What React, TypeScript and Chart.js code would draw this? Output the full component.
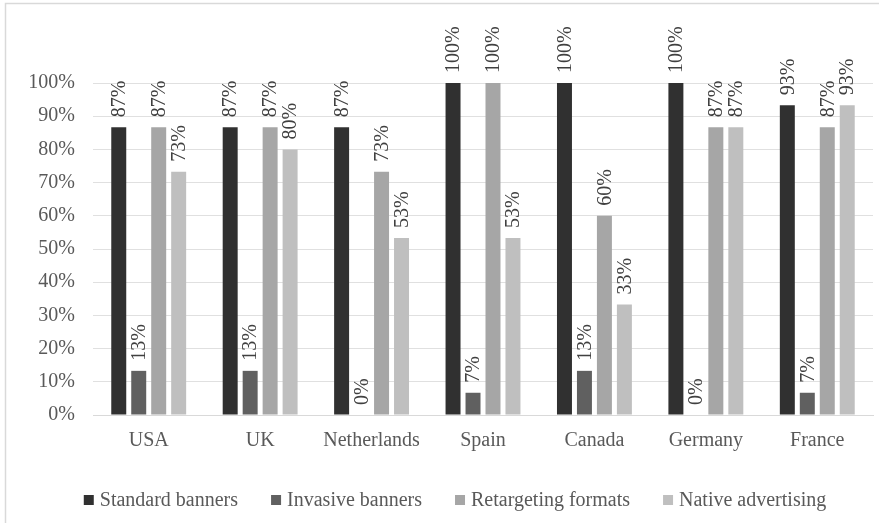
import React, { useEffect, useRef } from "react";
import { Chart, registerables } from "chart.js";

Chart.register(...registerables);

const categories = ["USA", "UK", "Netherlands", "Spain", "Canada", "Germany", "France"];
const standardBanners = [86.7, 86.7, 86.7, 100, 100, 100, 93.3];
const invasiveBanners = [13.3, 13.3, 0, 6.7, 13.3, 0, 6.7];
const retargetingFormats = [86.7, 86.7, 73.3, 100, 60, 86.7, 86.7];
const nativeAdvertising = [73.3, 80, 53.3, 53.3, 33.3, 86.7, 93.3];
const seriesNames = ["Standard banners", "Invasive banners", "Retargeting formats", "Native advertising"];
const seriesColors = ["#303030", "#606060", "#a6a6a6", "#bfbfbf"];
const yTicks = [0, 10, 20, 30, 40, 50, 60, 70, 80, 90, 100];

const FONT = "'Liberation Serif', 'Times New Roman', serif";

const framePlugin = {
  id: "frame",
  beforeDraw(chart: any) {
    const ctx = chart.ctx;
    ctx.save();
    ctx.strokeStyle = "#d9d9d9";
    ctx.lineWidth = 1.5;
    ctx.beginPath();
    ctx.moveTo(5.5, chart.height);
    ctx.lineTo(5.5, 3.5);
    ctx.lineTo(879, 3.5);
    ctx.stroke();
    ctx.restore();
  },
};

const valueLabelPlugin = {
  id: "valueLabels",
  afterDatasetsDraw(chart: any) {
    const ctx = chart.ctx;
    ctx.save();
    ctx.font = `20px ${FONT}`;
    ctx.fillStyle = "#404040";
    ctx.textAlign = "left";
    ctx.textBaseline = "middle";
    chart.data.datasets.forEach((ds: any, di: number) => {
      const meta = chart.getDatasetMeta(di);
      meta.data.forEach((bar: any, i: number) => {
        const v = ds.data[i];
        const text = Math.round(v) + "%";
        ctx.save();
        ctx.translate(bar.x, bar.y - 10);
        ctx.rotate(-Math.PI / 2);
        ctx.fillText(text, 0, 1);
        ctx.restore();
      });
    });
    ctx.restore();
  },
};

const legendPlugin = {
  id: "customLegend",
  afterDraw(chart: any) {
    const ctx = chart.ctx;
    ctx.save();
    ctx.font = `20px ${FONT}`;
    ctx.textBaseline = "middle";
    ctx.textAlign = "left";
    const box = 10;
    const gapBoxText = 6;
    const gapItems = 33;
    const items = chart.data.datasets.map((ds: any) => ({
      label: ds.label,
      color: ds.backgroundColor,
      w: box + gapBoxText + ctx.measureText(ds.label).width,
    }));
    const total = items.reduce((s: number, it: any) => s + it.w, 0) + gapItems * (items.length - 1);
    let x = 455 - total / 2;
    const y = 500;
    items.forEach((it: any) => {
      ctx.fillStyle = it.color;
      ctx.fillRect(x, y - box / 2, box, box);
      ctx.fillStyle = "#595959";
      ctx.fillText(it.label, x + box + gapBoxText, y + 1);
      x += it.w + gapItems;
    });
    ctx.restore();
  },
};

export default function App() {
  const ref = useRef<HTMLCanvasElement | null>(null);
  useEffect(() => {
    if (!ref.current) return;
    const seriesData = [standardBanners, invasiveBanners, retargetingFormats, nativeAdvertising];
    const chart = new Chart(ref.current, {
      type: "bar",
      data: {
        labels: categories,
        datasets: seriesData.map((d, i) => ({
          label: seriesNames[i],
          data: d,
          backgroundColor: seriesColors[i],
          borderWidth: 0,
          categoryPercentage: 0.717,
          barPercentage: 0.75,
        })),
      },
      options: {
        animation: false,
        responsive: false,
        maintainAspectRatio: false,
        layout: { padding: { top: 83, right: 14, left: 0, bottom: 0 } },
        plugins: {
          legend: { display: false },
          tooltip: { enabled: false },
          title: { display: false },
        },
        scales: {
          x: {
            grid: { display: false, drawTicks: false },
            border: { display: true, color: "#d9d9d9", width: 1 },
            ticks: {
              color: "#595959",
              font: { family: FONT, size: 20 },
              padding: 14,
              maxRotation: 0,
              autoSkip: false,
            },
            afterFit(scale: any) {
              scale.height = 108;
            },
          },
          y: {
            min: 0,
            max: 100,
            afterBuildTicks(scale: any) {
              scale.ticks = yTicks.map((v) => ({ value: v }));
            },
            grid: { color: "#e0e0e0", lineWidth: 1, drawTicks: false },
            border: { display: false },
            ticks: {
              color: "#595959",
              font: { family: FONT, size: 20 },
              padding: 18,
              callback: (v: any) => v + "%",
            },
            afterFit(scale: any) {
              scale.width = 93;
            },
          },
        },
      },
      plugins: [framePlugin, valueLabelPlugin, legendPlugin],
    });
    return () => chart.destroy();
  }, []);
  return (
    <div style={{ position: "fixed", left: 0, top: 0, width: 887, height: 523, background: "#fff" }}>
      <canvas ref={ref} width={887} height={523} style={{ width: 887, height: 523, display: "block" }} />
    </div>
  );
}
